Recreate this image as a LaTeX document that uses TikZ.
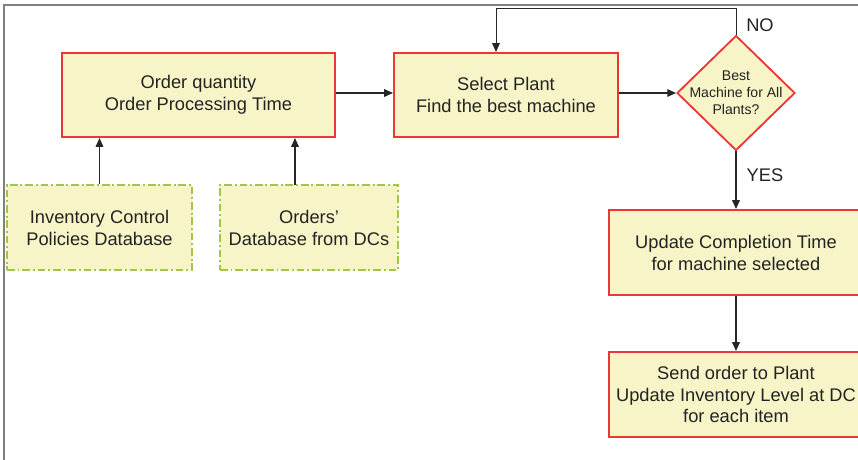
\documentclass[tikz,border=0pt]{standalone}
\usepackage{fontspec}
\setmainfont{Liberation Sans}
\usetikzlibrary{shapes.geometric,arrows.meta}
\definecolor{boxfill}{RGB}{247,245,200}
\definecolor{boxred}{RGB}{235,55,55}
\definecolor{dbgreen}{RGB}{160,200,70}
\definecolor{txtgray}{RGB}{35,35,35}
\begin{document}
\begin{tikzpicture}[x=0.025cm, y=-0.025cm,
                every node/.style = {text=txtgray, font=\fontsize{13}{15.6}\selectfont, align=center},
                process/.style = {draw=boxred, fill=boxfill, line width=1.4pt, minimum height=2.1cm, inner sep=0pt},
                dbbox/.style = {draw=dbgreen, fill=boxfill, line width=1.3pt, minimum height=2.125cm,
                                dash pattern=on 5.5pt off 2pt on 1.4pt off 2pt, inner sep=0pt},
                decision/.style = {draw=boxred, fill=boxfill, line width=1.3pt, diamond,
                                   minimum width=2.95cm, minimum height=2.875cm, inner sep=0pt},
                arrow/.style = {draw=black!85, line width=0.9pt, -{Triangle[length=0.22cm,width=0.19cm]}}
            ]
            \useasboundingbox (0,0) rectangle (858,460);
            \draw[gray, line width=1.1pt] (4,460) |- (858,5);

            % main row
            \node[process, minimum width=6.825cm] (order) at (198.5,95) {Order quantity\\Order Processing Time};
            \node[process, minimum width=5.6cm] (plant) at (506,95) {Select Plant\\Find the best machine};
            \node[decision] (best) at (736,93) {};
            \node[font=\fontsize{10}{12}\selectfont] (besttext) at (best) {Best\\Machine for All\\Plants?};

            % databases
            \node[dbbox, minimum width=4.625cm] (invdb) at (99.5,227.5) {Inventory Control\\Policies Database};
            \node[dbbox, minimum width=4.45cm] (orddb) at (309,227.5) {Orders'\\Database from DCs};

            % right column
            \node[process, minimum width=6.35cm, minimum height=2.125cm] (update) at (736,252.5) {Update Completion Time\\for machine selected};
            \node[process, minimum width=6.35cm, minimum height=2.125cm] (send) at (736,394.5) {Send order to Plant\\Update Inventory Level at DC\\for each item};

            \node (no) at (760,25) {NO};
            \node (yes) at (765,175) {YES};

            \coordinate (loop) at (496,8);
            \coordinate (orddbin) at (295,185);

            \draw[arrow] (order.east |- best) -- (plant.west |- best);
            \draw[arrow] (plant.east |- best) -- (best.west);
            \draw[arrow] (invdb.north) -- (invdb.north |- order.south);
            \draw[arrow] (orddbin) -- (orddbin |- order.south);
            \draw[arrow] (best.south) -- (update.north -| best.south);
            \draw[arrow] (update.south -| best.south) -- (send.north -| best.south);
            \draw[arrow, line width=0.7pt] (best.north) |- (loop) -- (loop |- plant.north);
        \end{tikzpicture}
\end{document}
